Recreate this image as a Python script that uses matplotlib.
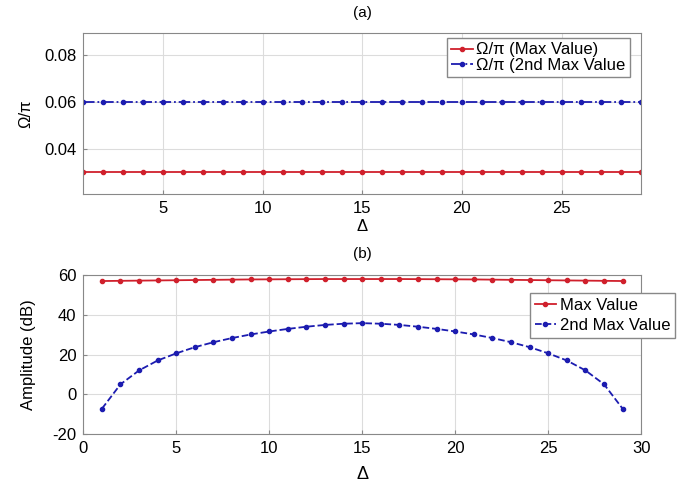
import matplotlib
matplotlib.use('Agg')
import matplotlib.pyplot as plt
import numpy as np

plt.rcParams['font.family'] = ['Liberation Sans', 'DejaVu Sans']
plt.rcParams['font.size'] = 12
plt.rcParams['axes.unicode_minus'] = False

# 数据
delta = list(range(1, 30))
omega_max = [0.03] * 29
omega_2nd = [0.06] * 29

amp_max = [57.0, 57.1, 57.2, 57.3, 57.4, 57.5, 57.6, 57.7, 57.8, 57.85, 57.9, 57.95, 58.0, 58.0, 58.0,
           58.0, 58.0, 57.95, 57.9, 57.85, 57.8, 57.7, 57.6, 57.5, 57.4, 57.3, 57.2, 57.1, 57.0]
amp_2nd = [-7.3, 5.0, 12.0, 17.0, 20.6, 23.7, 26.2, 28.3, 30.1, 31.6, 32.9, 34.0, 34.9, 35.5, 35.8,
           35.5, 34.9, 34.0, 32.9, 31.6, 30.1, 28.3, 26.2, 23.7, 20.6, 17.0, 12.0, 5.0, -7.3]

red = '#d0202c'
blue = '#1c1cb0'

fig = plt.figure(figsize=(6.94, 4.83), dpi=100)
ax1 = fig.add_axes([0.12, 0.598, 0.804, 0.333])
ax2 = fig.add_axes([0.12, 0.1015, 0.804, 0.329])

for ax in (ax1, ax2):
    ax.grid(True, color='#dcdcdc', linewidth=0.8)
    ax.set_axisbelow(True)
    for s in ax.spines.values():
        s.set_color('#888888')
        s.set_linewidth(0.8)
    ax.tick_params(direction='in', length=3, color='#888888', labelsize=12, pad=5)

# (a)
ax1.plot(delta, omega_max, '-', color=red, marker='o', markersize=3, linewidth=1.3, label='Ω/π (Max Value)')
ax1.plot(delta, omega_2nd, '-.', color=blue, marker='o', markersize=3, linewidth=1.3, label='Ω/π (2nd Max Value')
ax1.set_xlim(1, 29)
ax1.set_ylim(0.0205, 0.0895)
ax1.set_xticks([5, 10, 15, 20, 25])
ax1.set_yticks([0.04, 0.06, 0.08])
ax1.set_yticklabels(['0.04', '0.06', '0.08'])
ax1.set_title('(a)', fontsize=11, pad=12)
ax1.set_xlabel('Δ', fontsize=12, labelpad=2)
ax1.set_ylabel('Ω/π', fontsize=12, labelpad=8)
ax1.legend(loc='upper right', bbox_to_anchor=(0.985, 0.99), fancybox=False, edgecolor='#888888',
           framealpha=1, handlelength=1.3, handletextpad=0.2, labelspacing=0.05,
           borderpad=0.25, borderaxespad=0.2)

# (b)
ax2.plot(delta, amp_max, '-', color=red, marker='o', markersize=3, linewidth=1.3, label='Max Value')
ax2.plot(delta, amp_2nd, '--', color=blue, marker='o', markersize=3, linewidth=1.3, label='2nd Max Value')
ax2.set_xlim(0, 30)
ax2.set_ylim(-20, 60)
ax2.set_xticks([0, 5, 10, 15, 20, 25, 30])
ax2.set_yticks([-20, 0, 20, 40, 60])
ax2.set_title('(b)', fontsize=11, pad=12)
ax2.set_xlabel('Δ', fontsize=13, labelpad=7)
ax2.set_ylabel('Amplitude (dB)', fontsize=12, labelpad=12)
ax2.legend(loc='upper left', bbox_to_anchor=(0.80, 0.89), fancybox=False, edgecolor='#888888',
           framealpha=1, handlelength=1.3, handletextpad=0.2, labelspacing=0.3,
           borderpad=0.3, borderaxespad=0.0)

fig.savefig('out.png', dpi=100)
